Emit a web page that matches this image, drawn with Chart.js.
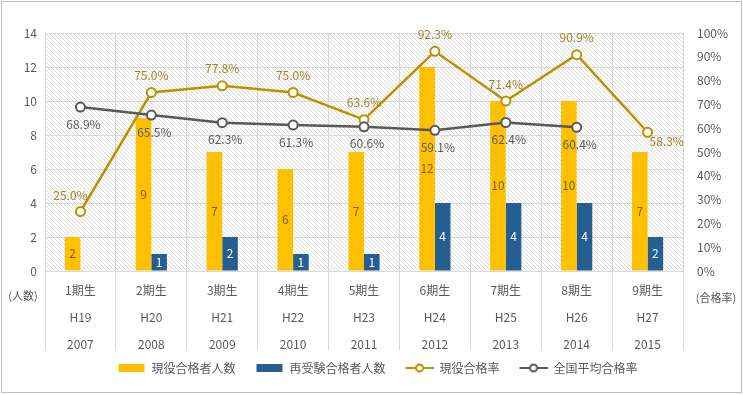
<!DOCTYPE html>
<html>
<head>
<meta charset="utf-8">
<script src="https://cdn.jsdelivr.net/npm/chart.js@4.4.0/dist/chart.umd.min.js"></script>
<style>
    html, body { margin: 0; padding: 0; background: #fff; }
</style>
</head>
<body>
<canvas id="pass-chart" width="743" height="395"></canvas>
<script>
const cohorts       = ['1期生', '2期生', '3期生', '4期生', '5期生', '6期生', '7期生', '8期生', '9期生']
const heisei        = ['H19', 'H20', 'H21', 'H22', 'H23', 'H24', 'H25', 'H26', 'H27']
const years         = ['2007', '2008', '2009', '2010', '2011', '2012', '2013', '2014', '2015']
const currentPassed = [2, 9, 7, 6, 7, 12, 10, 10, 7]
const retakePassed  = [null, 1, 2, 1, 1, 4, 4, 4, 2]
const currentRate   = [25.0, 75.0, 77.8, 75.0, 63.6, 92.3, 71.4, 90.9, 58.3]
const nationalRate  = [68.9, 65.5, 62.3, 61.3, 60.6, 59.1, 62.4, 60.4, null]

const FONT   = '"Noto Sans CJK JP", "Noto Sans", sans-serif'
const GRID   = '#d9d9d9'
const TEXT   = '#595959'
const YELLOW = '#ffc000'
const BLUE   = '#255e91'
const GOLD   = '#bf9000'
const GRAY   = '#595959'

// legend icons: 12px transparent margin on the left, then a 28px mark
function legendIcon(kind, color) {
    const c   = document.createElement('canvas')
    c.width   = 40
    c.height  = 12
    const ctx = c.getContext('2d')
    if (kind === 'box') {
        ctx.fillStyle = color
        ctx.fillRect(13, 2, 26, 8)
    } else {
        ctx.strokeStyle = color
        ctx.lineWidth   = 2
        ctx.beginPath()
        ctx.moveTo(12, 6)
        ctx.lineTo(40, 6)
        ctx.stroke()
        ctx.fillStyle = '#fff'
        ctx.beginPath()
        ctx.arc(26, 6, 3.5, 0, Math.PI * 2)
        ctx.fill()
        ctx.stroke()
    }
    return c
}

function hatchPattern(ctx) {
    const s   = 4
    const c   = document.createElement('canvas')
    c.width   = s
    c.height  = s
    const p   = c.getContext('2d')
    p.fillStyle = '#fff'
    p.fillRect(0, 0, s, s)
    p.strokeStyle = '#dcdcdc'
    p.lineWidth   = 1
    p.beginPath()
    p.moveTo(0, 0); p.lineTo(s, s)
    p.moveTo(-1, s - 1); p.lineTo(1, s + 1)
    p.moveTo(s - 1, -1); p.lineTo(s + 1, 1)
    p.stroke()
    return ctx.createPattern(c, 'repeat')
}

// hatched plot area, outer frame and axis unit captions
const frame = {
    id: 'frame',
    beforeDraw(chart) {
        const { ctx, chartArea: a } = chart
        ctx.save()
        ctx.fillStyle = hatchPattern(ctx)
        ctx.fillRect(a.left, a.top, a.right - a.left, a.bottom - a.top)
        ctx.restore()
    },
    afterDraw(chart) {
        const ctx = chart.ctx
        ctx.save()
        ctx.strokeStyle = '#bfbfbf'
        ctx.lineWidth   = 1
        ctx.strokeRect(1.5, 1.5, 740, 391)
        ctx.fillStyle    = TEXT
        ctx.font         = '11px ' + FONT
        ctx.textAlign    = 'center'
        ctx.textBaseline = 'middle'
        ctx.fillText('(人数)', 23, 296)
        ctx.fillText('(合格率)', 716, 298)
        ctx.restore()
    }
}

// data labels for bars and lines
const valueLabels = {
    id: 'valueLabels',
    afterDatasetsDraw(chart) {
        const ctx = chart.ctx
        ctx.save()
        ctx.font         = '12px ' + FONT
        ctx.textBaseline = 'middle'
        chart.data.datasets.forEach((ds, i) => {
            const meta = chart.getDatasetMeta(i)
            meta.data.forEach((el, j) => {
                const v = ds.data[j]
                if (v == null) return
                ctx.fillStyle = ds.labelColor
                if (ds.type === 'bar') {
                    ctx.textAlign = 'center'
                    ctx.fillText(v, el.x, (el.y + el.base) / 2)
                    return
                }
                const text = v.toFixed(1) + '%'
                if (ds.labelPos === 'above') {
                    if (j === ds.data.length - 1) {
                        ctx.textAlign = 'left'
                        ctx.fillText(text, el.x + 2, el.y + 9)
                    } else if (j === 0) {
                        ctx.textAlign = 'center'
                        ctx.fillText(text, el.x - 10, el.y - 16)
                    } else {
                        ctx.textAlign = 'center'
                        ctx.fillText(text, el.x, el.y - 17)
                    }
                } else {
                    ctx.textAlign = 'center'
                    ctx.fillText(text, el.x + 3, el.y + 17)
                }
            })
        })
        ctx.restore()
    }
}

const lineStyle = color => ({
    type: 'line',
    yAxisID: 'rate',
    borderColor: color,
    borderWidth: 2.5,
    pointRadius: 4.5,
    pointBorderWidth: 2,
    pointBackgroundColor: '#fff',
    pointBorderColor: color,
    tension: 0,
    spanGaps: false
})

const chart = new Chart(document.getElementById('pass-chart'), {
    type: 'bar',
    data: {
        labels: cohorts.map((c, i) => [c, heisei[i], years[i]]),
        datasets: [
            {
                type: 'bar', label: '現役合格者人数', data: currentPassed, yAxisID: 'count',
                backgroundColor: YELLOW, labelColor: '#7f6000', order: 2,
                barPercentage: 1, categoryPercentage: 0.44
            },
            {
                type: 'bar', label: '再受験合格者人数', data: retakePassed, yAxisID: 'count',
                backgroundColor: BLUE, labelColor: '#fff', order: 2,
                barPercentage: 1, categoryPercentage: 0.44
            },
            Object.assign(lineStyle(GOLD), {
                label: '現役合格率', data: currentRate, labelColor: '#a3832a', labelPos: 'above', order: 1
            }),
            Object.assign(lineStyle(GRAY), {
                label: '全国平均合格率', data: nationalRate, labelColor: '#595959', labelPos: 'below', order: 0
            })
        ]
    },
    options: {
        responsive: false,
        animation: false,
        layout: { padding: { top: 33, bottom: 11, left: 0, right: 0 } },
        plugins: {
            tooltip: { enabled: false },
            legend: {
                position: 'bottom',
                labels: {
                    usePointStyle: true,
                    pointStyleWidth: 40,
                    boxHeight: 12,
                    padding: 8,
                    color: TEXT,
                    font: { family: FONT, size: 12 },
                    generateLabels(chart) {
                        const icons = [
                            legendIcon('box', YELLOW), legendIcon('box', BLUE),
                            legendIcon('line', GOLD), legendIcon('line', GRAY)
                        ]
                        return chart.data.datasets.map((ds, i) => ({
                            text: ds.label,
                            datasetIndex: i,
                            pointStyle: icons[i],
                            fillStyle: 'transparent',
                            strokeStyle: 'transparent',
                            lineWidth: 0,
                            fontColor: TEXT
                        }))
                    }
                }
            }
        },
        scales: {
            x: {
                offset: true,
                grid: { offset: true, color: GRID, tickLength: 79, drawTicks: true },
                border: { display: false },
                ticks: {
                    color: TEXT, padding: -73, maxRotation: 0, autoSkip: false,
                    font: { family: FONT, size: 12, lineHeight: 2.25 }
                },
                afterFit: scale => { scale.height = 83 }
            },
            count: {
                position: 'left',
                min: 0, max: 14,
                ticks: { stepSize: 2, color: TEXT, padding: 8, font: { family: FONT, size: 12 } },
                grid: { color: GRID, drawTicks: false },
                border: { display: false },
                afterFit: scale => { scale.width = 45 }
            },
            rate: {
                position: 'right',
                min: 0, max: 100,
                ticks: {
                    stepSize: 10, color: TEXT, padding: 14,
                    font: { family: FONT, size: 12 },
                    callback: v => v + '%'
                },
                grid: { display: false, drawTicks: false },
                border: { display: false },
                afterFit: scale => { scale.width = 60 }
            }
        }
    },
    plugins: [frame, valueLabels]
})
</script>
</body>
</html>
